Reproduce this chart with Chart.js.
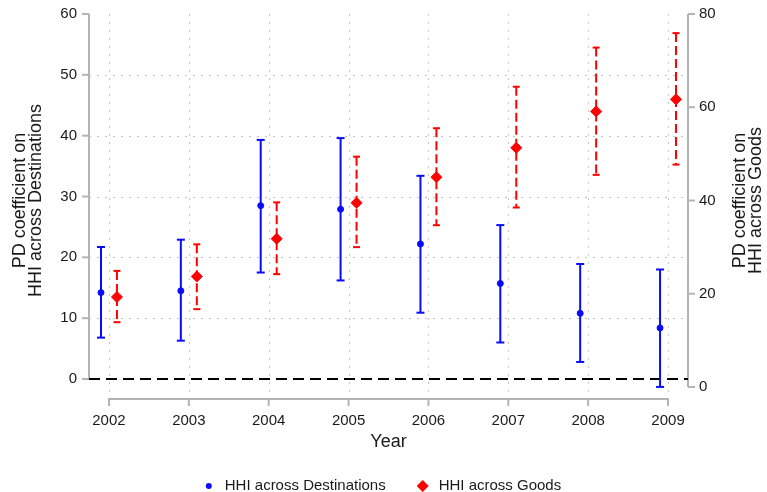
<!DOCTYPE html>
<html>
<head>
<meta charset="utf-8">
<script src="https://cdn.jsdelivr.net/npm/chart.js@4.4.1/dist/chart.umd.min.js"></script>
<style>
  html, body { margin: 0; padding: 0; background: #ffffff; }
  #wrap { width: 767px; height: 492px; }
</style>
</head>
<body>
<div id="wrap"><canvas id="chart" width="767" height="492"></canvas></div>
<script>
// Estimation years
const years = [2002, 2003, 2004, 2005, 2006, 2007, 2008, 2009];

// PD coefficient on HHI across destinations (left axis) with 95% bounds
const destCoef = [14.2, 14.5, 28.5, 27.9, 22.2, 15.7, 10.8, 8.4];
const destLow  = [6.8, 6.3, 17.5, 16.2, 10.9, 6.0, 2.8, -1.3];
const destHigh = [21.7, 22.9, 39.3, 39.6, 33.4, 25.3, 18.9, 18.0];

// PD coefficient on HHI across goods (right axis) with 95% bounds
const goodsCoef = [19.3, 23.7, 31.8, 39.5, 45.0, 51.3, 59.1, 61.7];
const goodsLow  = [13.9, 16.7, 24.2, 30.0, 34.7, 38.5, 45.5, 47.7];
const goodsHigh = [24.9, 30.6, 39.6, 49.4, 55.5, 64.4, 72.8, 75.9];

// Axis ticks
const leftTicks = [0, 10, 20, 30, 40, 50, 60];
const rightTicks = [0, 20, 40, 60, 80];
const zeroLevel = 0;

const FONT = '"Liberation Sans", Arial, Helvetica, sans-serif';
const TEXT = '#1a1a1a';
const BLUE = '#0a0aff';
const RED = '#ff0000';
const AXIS = '#b4b4b4';
const GRID = '#c4c4c4';
const dodge = 0.1;            // horizontal shift of the two series around each year
const X_MIN = 2001.75, X_MAX = 2009.25;

const destPoints = years.map((y, i) => ({ x: y - dodge, y: destCoef[i] }));
const goodsPoints = years.map((y, i) => ({ x: y + dodge, y: goodsCoef[i] }));

function line(ctx, x1, y1, x2, y2) {
  ctx.beginPath(); ctx.moveTo(x1, y1); ctx.lineTo(x2, y2); ctx.stroke();
}

// Fixed scale box sizes, no extra label overflow padding
function fixBox(size, key) {
  return s => {
    s[key] = size;
    s.paddingTop = 0; s.paddingBottom = 0; s.paddingLeft = 0; s.paddingRight = 0;
  };
}

// Dotted grid plus the Stata-style axis lines and tick marks
const framePlugin = {
  id: 'frame',
  beforeDatasetsDraw(chart) {
    const { ctx, chartArea: ca, scales: { x, yL, yR } } = chart;
    ctx.save();
    ctx.strokeStyle = GRID; ctx.lineWidth = 1; ctx.setLineDash([2, 6]);
    years.forEach(v => {
      const px = Math.round(x.getPixelForValue(v)) + 0.5;
      line(ctx, px, ca.top, px, ca.bottom + 5);
    });
    leftTicks.filter(v => v > 0 && v < 60).forEach(v => {
      const py = Math.round(yL.getPixelForValue(v)) + 0.5;
      line(ctx, ca.left, py, ca.right, py);
    });
    ctx.setLineDash([]);
    ctx.strokeStyle = AXIS; ctx.lineWidth = 2;
    // left axis
    const lTop = yL.getPixelForValue(leftTicks[leftTicks.length - 1]);
    const lBot = yL.getPixelForValue(leftTicks[0]);
    line(ctx, ca.left, lTop, ca.left, lBot);
    leftTicks.forEach(v => { const py = yL.getPixelForValue(v); line(ctx, ca.left - 7, py, ca.left, py); });
    // right axis
    const rTop = yR.getPixelForValue(rightTicks[rightTicks.length - 1]);
    const rBot = yR.getPixelForValue(rightTicks[0]);
    line(ctx, ca.right, rTop, ca.right, rBot);
    rightTicks.forEach(v => { const py = yR.getPixelForValue(v); line(ctx, ca.right, py, ca.right + 7, py); });
    // detached year axis
    const ay = ca.bottom + 12;
    line(ctx, x.getPixelForValue(years[0]) - 1, ay, x.getPixelForValue(years[years.length - 1]) + 1, ay);
    years.forEach(v => { const px = x.getPixelForValue(v); line(ctx, px, ay, px, ay + 7); });
    ctx.restore();
  },
  afterDatasetsDraw(chart) {
    const { ctx, scales: { x, yL, yR } } = chart;
    const bars = [
      { lo: destLow, hi: destHigh, axis: yL, shift: -dodge, color: BLUE, dash: [], cap: 4 },
      { lo: goodsLow, hi: goodsHigh, axis: yR, shift: dodge, color: RED, dash: [9, 4], cap: 3.5 }
    ];
    ctx.save();
    ctx.lineWidth = 2;
    bars.forEach(b => {
      ctx.strokeStyle = b.color;
      years.forEach((yr, i) => {
        const px = x.getPixelForValue(yr + b.shift);
        const pLo = b.axis.getPixelForValue(b.lo[i]);
        const pHi = b.axis.getPixelForValue(b.hi[i]);
        ctx.setLineDash(b.dash);
        line(ctx, px, pHi, px, pLo);
        ctx.setLineDash([]);
        line(ctx, px - b.cap, pHi, px + b.cap, pHi);
        line(ctx, px - b.cap, pLo, px + b.cap, pLo);
      });
    });
    ctx.restore();
  },
  afterDraw(chart) {
    const { ctx, chartArea: ca } = chart;
    ctx.save();
    // right axis title
    ctx.fillStyle = TEXT;
    ctx.font = '18px ' + FONT;
    ctx.textAlign = 'center';
    ctx.textBaseline = 'middle';
    const midY = (ca.top + ca.bottom) / 2;
    [['PD coefficient on', 740.5], ['HHI across Goods', 756]].forEach(([t, cx]) => {
      ctx.save(); ctx.translate(cx, midY); ctx.rotate(-Math.PI / 2); ctx.fillText(t, 0, 0); ctx.restore();
    });
    // legend
    const items = chart.data.datasets.filter(d => d.inLegend);
    ctx.font = '15px ' + FONT;
    ctx.textAlign = 'left';
    const textGap = 16, itemGap = 37;
    const widths = items.map(d => textGap + ctx.measureText(d.label).width);
    const total = widths.reduce((a, b) => a + b, 0) + itemGap * (items.length - 1);
    let cx = 385 - total / 2;
    const ly = 486;
    items.forEach((d, i) => {
      ctx.fillStyle = d.backgroundColor;
      ctx.beginPath();
      if (d.pointStyle === 'rectRot') {
        const r = 6;
        ctx.moveTo(cx, ly - r); ctx.lineTo(cx + r, ly); ctx.lineTo(cx, ly + r); ctx.lineTo(cx - r, ly);
        ctx.closePath();
      } else {
        ctx.arc(cx, ly, 3, 0, Math.PI * 2);
      }
      ctx.fill();
      ctx.fillStyle = TEXT;
      ctx.fillText(d.label, cx + textGap, ly);
      cx += widths[i] + itemGap;
    });
    ctx.restore();
  }
};

const tickFont = { family: FONT, size: 15 };

new Chart(document.getElementById('chart'), {
  type: 'scatter',
  data: {
    datasets: [
      {
        label: 'HHI across Destinations', inLegend: true, data: destPoints, yAxisID: 'yL',
        pointStyle: 'circle', pointRadius: 3, borderWidth: 1,
        backgroundColor: BLUE, borderColor: BLUE
      },
      {
        label: 'HHI across Goods', inLegend: true, data: goodsPoints, yAxisID: 'yR',
        pointStyle: 'rectRot', pointRadius: 5.5, borderWidth: 1,
        backgroundColor: RED, borderColor: RED
      },
      {
        label: 'zero', type: 'line', yAxisID: 'yL',
        data: [{ x: X_MIN, y: zeroLevel }, { x: X_MAX, y: zeroLevel }],
        borderColor: '#000000', borderWidth: 2, borderDash: [11, 6],
        pointRadius: 0, fill: false
      }
    ]
  },
  options: {
    responsive: false,
    animation: false,
    devicePixelRatio: 1,
    layout: { padding: { top: 14, right: 0, bottom: 0, left: 0 } },
    plugins: { legend: { display: false }, tooltip: { enabled: false } },
    scales: {
      x: {
        type: 'linear', position: 'bottom', min: X_MIN, max: X_MAX,
        afterBuildTicks: s => { s.ticks = years.map(v => ({ value: v })); },
        afterFit: fixBox(105, 'height'),
        grid: { display: false, drawTicks: false },
        border: { display: false },
        ticks: { font: tickFont, color: TEXT, padding: 25, maxRotation: 0, autoSkip: false, callback: v => String(v) },
        title: { display: true, text: 'Year', color: TEXT, font: { family: FONT, size: 18 }, padding: { top: 0, bottom: 39 } }
      },
      yL: {
        type: 'linear', position: 'left', min: -1.315, max: 60,
        afterBuildTicks: s => { s.ticks = leftTicks.map(v => ({ value: v })); },
        afterFit: fixBox(89, 'width'),
        grid: { display: false, drawTicks: false },
        border: { display: false },
        ticks: { font: tickFont, color: TEXT, padding: 12 },
        title: {
          display: true, text: ['PD coefficient on', 'HHI across Destinations'], color: TEXT,
          font: { family: FONT, size: 18, lineHeight: '16.5px' }, padding: { top: 11.5, bottom: 0 }
        }
      },
      yR: {
        type: 'linear', position: 'right', min: 0, max: 80,
        afterBuildTicks: s => { s.ticks = rightTicks.map(v => ({ value: v })); },
        afterFit: fixBox(79, 'width'),
        grid: { display: false, drawTicks: false },
        border: { display: false },
        ticks: { font: tickFont, color: TEXT, padding: 11 }
      }
    }
  },
  plugins: [framePlugin]
});
</script>
</body>
</html>
